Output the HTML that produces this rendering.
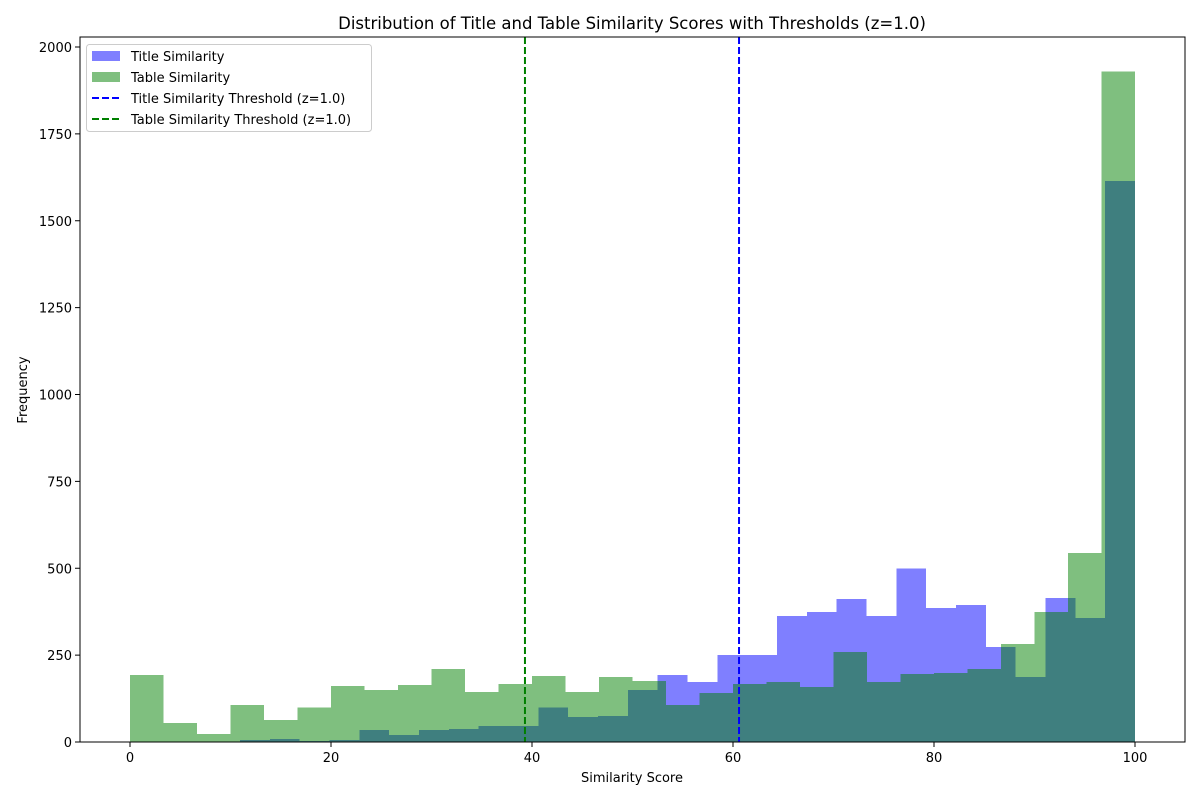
<!DOCTYPE html>
<html><head><meta charset="utf-8"><style>
body{margin:0;background:#fff}
svg text{font-family:"DejaVu Sans","Liberation Sans",sans-serif;fill:#000}
</style></head><body>
<svg id="chart" width="1200" height="800" viewBox="0 0 1200 800" xmlns="http://www.w3.org/2000/svg">
<rect width="1200" height="800" fill="#fff"/>
<g id="bars" shape-rendering="crispEdges"></g>
<g id="lines"></g>
<g id="axes"></g>
</svg>
<script>
const greenStart = 0, greenEnd = 100;
const titleStart = 10.95, titleEnd = 100;
const tableCounts = [193,55,23,106,63,100,161,150,164,210,144,167,190,144,187,176,106,141,167,172,158,259,172,196,198,210,282,374,544,1930];
const titleCounts = [6,9,3,6,35,20,35,37,46,46,100,72,75,150,193,172,250,250,362,374,411,362,500,385,394,273,187,414,357,1615];
const xTicks = [0,20,40,60,80,100];
const yTicks = [0,250,500,750,1000,1250,1500,1750,2000];
const titleThreshold = 60.6, tableThreshold = 39.3;

const L=80,R=1185,T=37,B=742;
const xs = v => 130 + v*10.05;
const ys = v => 742 - v*0.3475;
const NS="http://www.w3.org/2000/svg";
function mk(tag, attrs, parent){const e=document.createElementNS(NS,tag);for(const k in attrs)e.setAttribute(k,attrs[k]);parent.appendChild(e);return e;}
const bars=document.getElementById('bars'), lines=document.getElementById('lines'), axes=document.getElementById('axes');

function drawHist(counts,start,end,color,name){
  const w=(end-start)/counts.length;
  counts.forEach((c,i)=>{
    const x0=xs(start+i*w), x1=xs(start+(i+1)*w);
    const r=mk('rect',{x:x0,y:ys(c),width:x1-x0,height:ys(0)-ys(c),fill:color,'fill-opacity':0.5},bars);
    
    
  });
}
drawHist(titleCounts,titleStart,titleEnd,'#0000ff','title-similarity');
drawHist(tableCounts,greenStart,greenEnd,'#008000','table-similarity');

[[titleThreshold,'#0000ff','title-threshold-line'],[tableThreshold,'#008000','table-threshold-line']].forEach(([v,c,n])=>{
  const l=mk('line',{x1:xs(v),x2:xs(v),y1:T,y2:B,stroke:c,'stroke-width':2,'stroke-dasharray':'7,3'},lines);
  
  
});

const frame=mk('rect',{x:L,y:T,width:R-L,height:B-T,fill:'none',stroke:'#000','stroke-width':1},axes);



xTicks.forEach(v=>{
  mk('line',{x1:xs(v),x2:xs(v),y1:B,y2:B+5,stroke:'#000'},axes);
  const t=mk('text',{x:xs(v),y:B+20,'text-anchor':'middle','font-size':13},axes);
  t.textContent=v;
  
  
});
yTicks.forEach(v=>{
  mk('line',{x1:L-5,x2:L,y1:ys(v),y2:ys(v),stroke:'#000'},axes);
  const t=mk('text',{x:L-8,y:ys(v)+5,'text-anchor':'end','font-size':13},axes);
  t.textContent=v;
  
  
});
</script>
<svg style="position:absolute;left:0;top:0" width="1200" height="800">
<text x="632" y="29" text-anchor="middle" font-size="16.5">Distribution of Title and Table Similarity Scores with Thresholds (z=1.0)</text>
<text x="632" y="782" text-anchor="middle" font-size="13">Similarity Score</text>
<text x="27" y="390" text-anchor="middle" font-size="13" transform="rotate(-90 27 390)">Frequency</text>
<g>
<rect x="86.5" y="44.5" width="285" height="87" rx="3" fill="#fff" fill-opacity="0.8" stroke="#ccc"/>
<rect x="92" y="51" width="28" height="10" fill="#0000ff" fill-opacity="0.5"/>
<text x="131" y="61" font-size="13">Title Similarity</text>
<rect x="92" y="72" width="28" height="10" fill="#008000" fill-opacity="0.5"/>
<text x="131" y="82" font-size="13">Table Similarity</text>
<line x1="92" x2="120" y1="98" y2="98" stroke="#0000ff" stroke-width="2" stroke-dasharray="7,3"/>
<text x="131" y="103" font-size="13">Title Similarity Threshold (z=1.0)</text>
<line x1="92" x2="120" y1="119" y2="119" stroke="#008000" stroke-width="2" stroke-dasharray="7,3"/>
<text x="131" y="124" font-size="13">Table Similarity Threshold (z=1.0)</text>
</g>
</svg>
</body></html>
